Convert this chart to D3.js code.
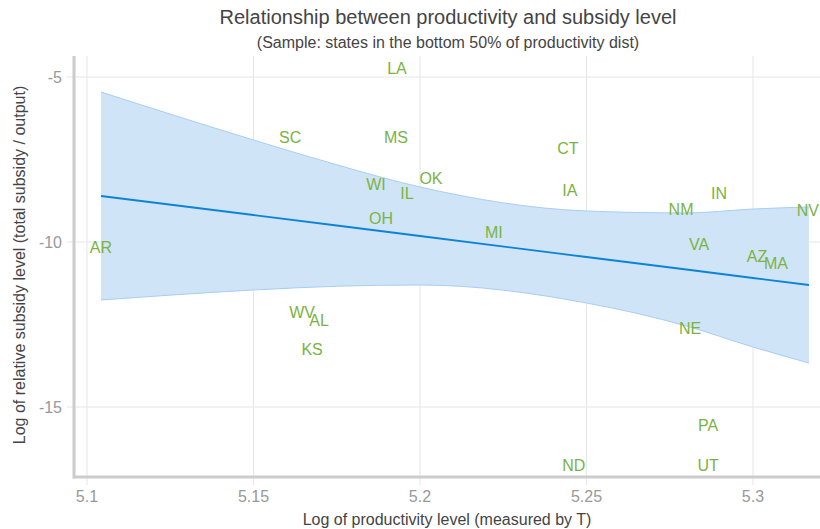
<!DOCTYPE html>
<html>
<head>
<meta charset="utf-8">
<script src="https://cdn.jsdelivr.net/npm/d3@7"></script>
<style>
  body { margin: 0; background: #fff; }
  svg { font-family: "Liberation Sans", Arial, sans-serif; }
</style>
</head>
<body>
<div id="chart"></div>
<script>
// state labels and their positions
var states = ['LA', 'SC', 'MS', 'CT', 'OK', 'WI', 'IL', 'IA', 'IN', 'NM', 'NV', 'OH', 'MI', 'AR',
              'VA', 'AZ', 'MA', 'WV', 'AL', 'KS', 'NE', 'PA', 'ND', 'UT'];
var productivity = [5.1931, 5.1610, 5.1928, 5.2444, 5.2033, 5.1868, 5.1961, 5.2450, 5.2898, 5.2784,
                    5.3165, 5.1883, 5.2222, 5.1042, 5.2838, 5.3012, 5.3069, 5.1646, 5.1697, 5.1676,
                    5.2811, 5.2865, 5.2462, 5.2865];
var subsidy = [-4.73, -6.82, -6.82, -7.15, -8.06, -8.24, -8.52, -8.45, -8.52, -9.00,
               -9.03, -9.27, -9.70, -10.15, -10.06, -10.45, -10.64, -12.12, -12.39, -13.24,
               -12.61, -15.55, -16.76, -16.76];

// fitted line and confidence band
var fitX = [5.1042, 5.15, 5.175, 5.2, 5.25, 5.28, 5.30, 5.3168];
var fitY = [-8.606, -9.182, -9.50, -9.818, -10.455, -10.833, -11.091, -11.303];
var bandUpper = [-5.455, -6.909, -7.66, -8.333, -9.061, -9.121, -9.000, -8.939];
var bandLower = [-11.758, -11.455, -11.34, -11.303, -11.848, -12.545, -13.182, -13.667];

var xTicks = [5.1, 5.15, 5.2, 5.25, 5.3];
var yTicks = [-5, -10, -15];

var width = 820, height = 529;
var plotLeft = 74, plotRight = 820, plotTop = 56, plotBottom = 477;

var svg = d3.select('#chart').append('svg')
    .attr('width', width)
    .attr('height', height);

var x = d3.scaleLinear().domain([5.0961, 5.32012]).range([plotLeft, plotRight]);
var y = d3.scaleLinear().domain([-4.3636, -17.1212]).range([plotTop, plotBottom]);

// grid
svg.append('g').selectAll('line')
    .data(xTicks).enter().append('line')
    .attr('x1', d => x(d)).attr('x2', d => x(d))
    .attr('y1', plotTop).attr('y2', plotBottom + 8)
    .attr('stroke', '#e6e6e6').attr('stroke-width', 1);

svg.append('g').selectAll('line')
    .data(yTicks).enter().append('line')
    .attr('x1', plotLeft - 7).attr('x2', plotRight)
    .attr('y1', d => y(d)).attr('y2', d => y(d))
    .attr('stroke', '#e6e6e6').attr('stroke-width', 1);

// confidence band
var bandIdx = d3.range(fitX.length);
var area = d3.area()
    .x(i => x(fitX[i]))
    .y0(i => y(bandLower[i]))
    .y1(i => y(bandUpper[i]))
    .curve(d3.curveMonotoneX);

svg.append('path')
    .datum(bandIdx)
    .attr('d', area)
    .attr('fill', '#d0e4f8')
    .attr('stroke', 'none');

[bandUpper, bandLower].forEach(function (arr) {
    svg.append('path')
        .datum(bandIdx)
        .attr('d', d3.line().x(i => x(fitX[i])).y(i => y(arr[i])).curve(d3.curveMonotoneX))
        .attr('fill', 'none')
        .attr('stroke', '#a8cdf2')
        .attr('stroke-width', 1);
});

svg.append('path')
    .datum(bandIdx)
    .attr('d', d3.line().x(i => x(fitX[i])).y(i => y(fitY[i])))
    .attr('fill', 'none')
    .attr('stroke', '#0b84d6')
    .attr('stroke-width', 1.8);

// axis lines
svg.append('line')
    .attr('x1', plotLeft).attr('x2', plotLeft)
    .attr('y1', plotTop).attr('y2', plotBottom + 1.5)
    .attr('stroke', '#cccccc').attr('stroke-width', 3);
svg.append('line')
    .attr('x1', plotLeft).attr('x2', plotRight)
    .attr('y1', plotBottom).attr('y2', plotBottom)
    .attr('stroke', '#cccccc').attr('stroke-width', 3);

// tick labels
svg.append('g').selectAll('text')
    .data(xTicks).enter().append('text')
    .attr('x', d => x(d))
    .attr('y', 502)
    .attr('text-anchor', 'middle')
    .attr('font-size', 16)
    .attr('fill', '#999')
    .text(d => d);

svg.append('g').selectAll('text')
    .data(yTicks).enter().append('text')
    .attr('x', 62)
    .attr('y', d => y(d))
    .attr('dy', '0.35em')
    .attr('text-anchor', 'end')
    .attr('font-size', 16)
    .attr('fill', '#999')
    .text(d => d);

// state labels
svg.append('g').selectAll('text')
    .data(states).enter().append('text')
    .attr('x', (d, i) => x(productivity[i]))
    .attr('y', (d, i) => y(subsidy[i]))
    .attr('dy', '0.35em')
    .attr('text-anchor', 'middle')
    .attr('font-size', 16)
    .attr('fill', '#7ab342')
    .text(d => d);

// titles
svg.append('text')
    .attr('x', 448).attr('y', 24)
    .attr('text-anchor', 'middle')
    .attr('font-size', 20)
    .attr('fill', '#444')
    .text('Relationship between productivity and subsidy level');

svg.append('text')
    .attr('x', 448).attr('y', 48)
    .attr('text-anchor', 'middle')
    .attr('font-size', 16)
    .attr('fill', '#444')
    .text('(Sample: states in the bottom 50% of productivity dist)');

svg.append('text')
    .attr('x', 447).attr('y', 525)
    .attr('text-anchor', 'middle')
    .attr('font-size', 16)
    .attr('fill', '#444')
    .text('Log of productivity level (measured by T)');

svg.append('text')
    .attr('transform', 'translate(25, 265) rotate(-90)')
    .attr('text-anchor', 'middle')
    .attr('font-size', 16)
    .attr('fill', '#444')
    .text('Log of relative subsidy level (total subsidy / output)');
</script>
</body>
</html>
